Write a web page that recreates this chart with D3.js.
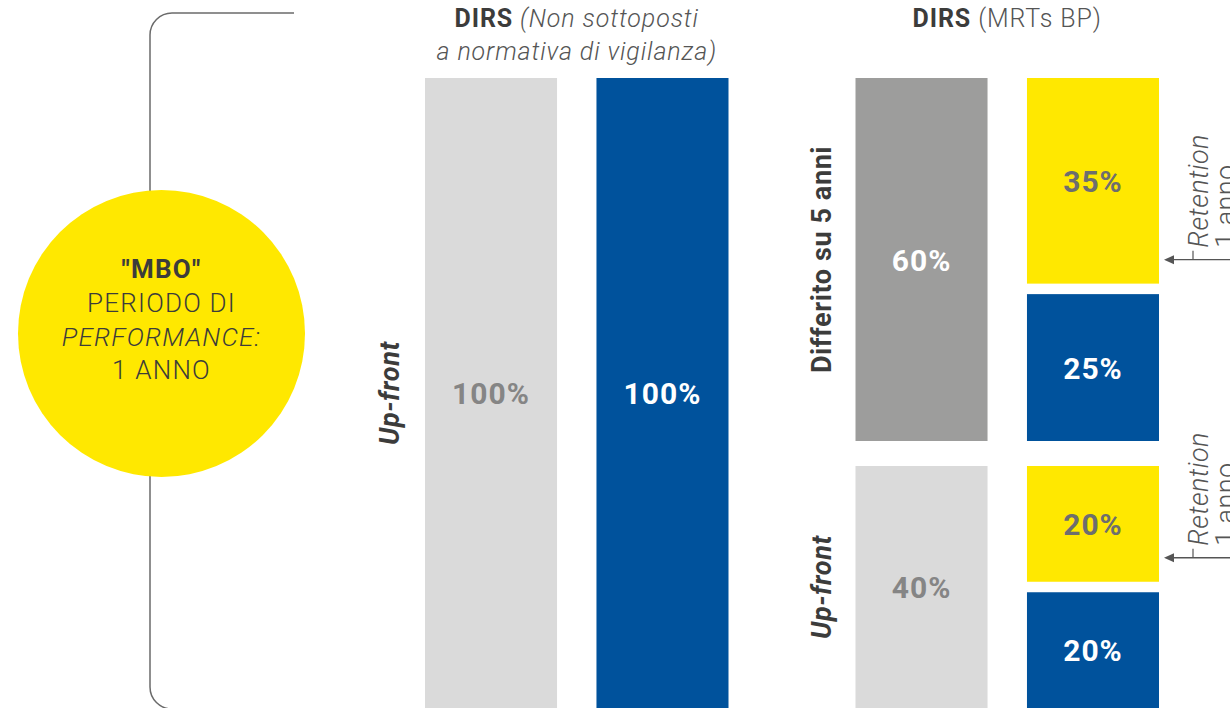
<!DOCTYPE html>
<html>
<head>
<meta charset="utf-8">
<script src="https://cdn.jsdelivr.net/npm/d3@7"></script>
<style>
  body { margin: 0; background: #fff; }
  svg { display: block; font-family: "Helvetica Neue", Roboto, Arial, sans-serif; }
</style>
</head>
<body>
<svg id="chart" width="1230" height="708"></svg>
<script>
// dati
const groups = ["nonMrt", "mrt"];
const nonMrtBars = ["grigio", "blu"];
const nonMrtValues = [100, 100];
const nonMrtLabels = ["100%", "100%"];
const mrtBlocks = ["Up-front", "Differito su 5 anni"]; // dal basso verso l'alto
const mrtBlockValues = [40, 60];
const mrtBlockLabels = ["40%", "60%"];
const mrtSplitValues = [[20, 20], [25, 35]]; // per blocco: blu (sotto), giallo (sopra)
const mrtSplitLabels = [["20%", "20%"], ["25%", "35%"]];
const circleLines = ["\"MBO\"", "PERIODO DI", "PERFORMANCE:", "1 ANNO"];
const retentionLines = ["Retention", "1 anno"];

const YELLOW = "#ffe800", BLUE = "#00529c", LIGHT = "#dadada", DARK = "#9d9d9c";
const TEXT = "#3c3c3b";

const svg = d3.select("#chart");

// scale
const xGroup = d3.scaleBand().domain(groups).range([425, 1159]).paddingInner(0.295);
const xInner = d3.scaleBand().domain([0, 1]).range([0, xGroup.bandwidth()]).paddingInner(0.23);
const yLeft = d3.scaleLinear().domain([0, 100]).range([708, 78]);
const hRight = d3.scaleLinear().domain([0, 100]).range([0, 605]);
const blockGap = 25, splitGap = 10.5;

// parentesi a sinistra
const br = d3.path();
br.moveTo(294, 13);
br.lineTo(172, 13);
br.arcTo(150, 13, 150, 35, 22);
br.lineTo(150, 687);
br.arcTo(150, 709, 172, 709, 22);
br.lineTo(200, 709);
svg.append("path").attr("d", br.toString())
  .attr("fill", "none").attr("stroke", "#6b6b6b").attr("stroke-width", 1.5);

// cerchio
svg.append("circle").attr("cx", 161.5).attr("cy", 333.5).attr("r", 143.5).attr("fill", YELLOW);
const ct = svg.append("text").attr("text-anchor", "middle").attr("fill", TEXT)
  .attr("font-size", 26).attr("letter-spacing", 1.2);
circleLines.forEach((t, i) => {
  ct.append("tspan").attr("x", 161.5).attr("y", 278 + i * 33.8).text(t)
    .attr("font-weight", i === 0 ? 700 : 300)
    .attr("font-style", i === 2 ? "italic" : "normal");
});

// titoli
const t1 = svg.append("text").attr("text-anchor", "middle").attr("font-size", 25)
  .attr("letter-spacing", 0.9).attr("fill", "#555");
const gx0 = xGroup("nonMrt") + xGroup.bandwidth() / 2;
const l1 = t1.append("tspan").attr("x", gx0).attr("y", 27);
l1.append("tspan").attr("font-weight", 700).attr("fill", TEXT).text("DIRS");
l1.append("tspan").attr("font-style", "italic").attr("font-weight", 300).text(" (Non sottoposti");
t1.append("tspan").attr("x", gx0).attr("y", 60).attr("font-style", "italic").attr("font-weight", 300)
  .text("a normativa di vigilanza)");

const gx1 = xGroup("mrt") + xGroup.bandwidth() / 2;
const t2 = svg.append("text").attr("text-anchor", "middle").attr("font-size", 25)
  .attr("letter-spacing", 0.9).attr("fill", "#555").attr("x", gx1).attr("y", 27);
t2.append("tspan").attr("font-weight", 700).attr("fill", TEXT).text("DIRS");
t2.append("tspan").attr("font-weight", 300).text(" (MRTs BP)");

// etichette numeriche
function numLabel(x, y, text, color) {
  svg.append("text").attr("x", x).attr("y", y + 11)
    .attr("text-anchor", "middle").attr("font-size", 30).attr("font-weight", 700)
    .attr("letter-spacing", 1).attr("fill", color).text(text);
}

// barre non MRT
const bw = xInner.bandwidth();
nonMrtValues.forEach((v, i) => {
  const x = xGroup("nonMrt") + xInner(i);
  svg.append("rect").attr("x", x).attr("y", yLeft(v)).attr("width", bw)
    .attr("height", yLeft(0) - yLeft(v)).attr("fill", i === 0 ? LIGHT : BLUE);
  numLabel(x + bw / 2, (yLeft(v) + yLeft(0)) / 2, nonMrtLabels[i], i === 0 ? "#858585" : "#fff");
});

// etichetta verticale
function vLabel(x, y, text, italic) {
  svg.append("text").attr("transform", `translate(${x},${y}) rotate(-90)`)
    .attr("text-anchor", "middle").attr("font-size", 27).attr("font-weight", 700)
    .attr("letter-spacing", 0.6)
    .attr("font-style", italic ? "italic" : "normal").attr("fill", TEXT).text(text);
}
vLabel(xGroup("nonMrt") - 26, (yLeft(100) + yLeft(0)) / 2, "Up-front", true);

// barre MRT
let bottom = 708;
const mrtX0 = xGroup("mrt") + xInner(0);
const mrtX1 = xGroup("mrt") + xInner(1);
mrtBlocks.forEach((name, b) => {
  const h = hRight(mrtBlockValues[b]);
  const top = bottom - h;
  svg.append("rect").attr("x", mrtX0).attr("y", top).attr("width", bw).attr("height", h)
    .attr("fill", b === 0 ? LIGHT : DARK);
  numLabel(mrtX0 + bw / 2, top + h / 2, mrtBlockLabels[b], b === 0 ? "#858585" : "#fff");
  vLabel(mrtX0 - 24, top + h / 2, name, b === 0);

  // suddivisione blu / giallo
  const inner = h - splitGap;
  let sb = bottom;
  let yellowBottom = 0;
  mrtSplitValues[b].forEach((v, k) => {
    const sh = inner * v / mrtBlockValues[b];
    const st = sb - sh;
    svg.append("rect").attr("x", mrtX1).attr("y", st).attr("width", bw).attr("height", sh)
      .attr("fill", k === 0 ? BLUE : YELLOW);
    numLabel(mrtX1 + bw / 2, st + sh / 2, mrtSplitLabels[b][k], k === 0 ? "#fff" : "#6e6e6e");
    if (k === 1) yellowBottom = sb;
    sb = st - splitGap;
  });

  // retention
  const ay = yellowBottom - 24;
  const ax = mrtX1 + bw + 5;
  svg.append("line").attr("x1", 1230).attr("x2", ax + 6).attr("y1", ay).attr("y2", ay)
    .attr("stroke", "#555").attr("stroke-width", 1.3);
  svg.append("path").attr("d", `M${ax},${ay}L${ax + 10},${ay - 4.5}L${ax + 10},${ay + 4.5}Z`).attr("fill", "#555");
  svg.append("line").attr("x1", 1193).attr("x2", 1193).attr("y1", ay - 9).attr("y2", ay)
    .attr("stroke", "#555").attr("stroke-width", 1.2);
  retentionLines.forEach((t, i) => {
    svg.append("text").attr("transform", `translate(${1208 + i * 27},${ay - 12}) rotate(-90)`)
      .attr("font-size", 27).attr("font-weight", 300).attr("fill", "#555")
      .attr("letter-spacing", 0.4)
      .attr("font-style", i === 0 ? "italic" : "normal").text(t);
  });

  bottom = top - blockGap;
});
</script>
</body>
</html>
